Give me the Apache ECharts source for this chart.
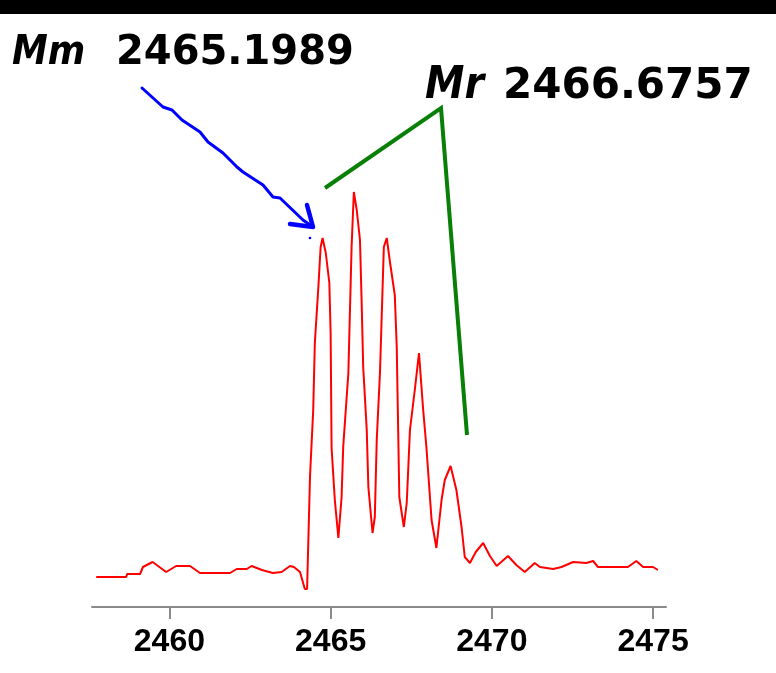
<!DOCTYPE html>
<html>
<head>
<meta charset="utf-8">
<title>Isotope envelope</title>
<script src="https://cdn.jsdelivr.net/npm/echarts@6/dist/echarts.min.js"></script>
<style>
  html, body { margin: 0; padding: 0; background: #fff; }
  #chart { width: 776px; height: 673px; }
</style>
</head>
<body>
<div id="chart"></div>
<script>
// m/z sampling of the trace
const mz = [
  2457.73, 2458.66, 2458.69, 2459.09, 2459.18, 2459.48, 2459.90, 2460.21, 2460.64, 2460.95,
  2461.62, 2461.88, 2462.09, 2462.40, 2462.55, 2462.87, 2463.21, 2463.48, 2463.74, 2463.86,
  2464.05, 2464.20, 2464.27, 2464.36, 2464.46, 2464.51, 2464.62, 2464.69, 2464.75, 2464.85,
  2464.96, 2465.00, 2465.03, 2465.13, 2465.24, 2465.34, 2465.39, 2465.55, 2465.65, 2465.72,
  2465.81, 2465.91, 2465.96, 2466.01, 2466.12, 2466.17, 2466.30, 2466.37, 2466.43, 2466.53,
  2466.65, 2466.74, 2466.84, 2466.99, 2467.05, 2467.13, 2467.27, 2467.36, 2467.46, 2467.61,
  2467.74, 2467.87, 2467.97, 2468.13, 2468.28, 2468.44, 2468.54, 2468.72, 2468.90, 2469.06,
  2469.16, 2469.32, 2469.50, 2469.73, 2469.94, 2470.15, 2470.50, 2470.76, 2471.02, 2471.33,
  2471.49, 2471.90, 2472.16, 2472.52, 2472.93, 2473.14, 2473.29, 2474.22, 2474.48, 2474.69,
  2475.00, 2475.15
];

// signal intensity (arbitrary units)
const intensity = [
  30, 30, 33, 33, 40, 45, 35, 41, 41, 34,
  34, 34, 38, 38, 41, 37, 34, 35, 41, 40,
  35, 18, 18, 130, 197, 264, 320, 360, 369, 354,
  324, 274, 159, 107, 69, 110, 160, 234, 360, 415,
  397, 367, 307, 240, 177, 120, 74, 90, 167, 234,
  360, 369, 345, 312, 260, 110, 80, 104, 177, 217,
  254, 197, 160, 87, 59, 107, 127, 141, 117, 80,
  50, 44, 55, 64, 51, 41, 51, 42, 35, 44,
  40, 38, 40, 45, 44, 46, 40, 40, 46, 40,
  40, 37
];

// labelled ticks on the mass axis
const tickValues = [2460, 2465, 2470, 2475];

// annotation texts
const monoLabel = 'Mm';
const monoMass = '2465.1989';
const avgLabel = 'Mr';
const avgMass = '2466.6757';

const points = mz.map((m, i) => [m, intensity[i]]);

const chart = echarts.init(document.getElementById('chart'), null, { renderer: 'canvas' });

chart.setOption({
  animation: false,
  backgroundColor: '#ffffff',
  grid: { left: 92, right: 110, top: 107, bottom: 66, containLabel: false },
  xAxis: {
    type: 'value',
    min: 2457.6,
    max: 2475.4,
    splitLine: { show: false },
    axisLine: { show: true, onZero: false, lineStyle: { color: '#8a8a8a', width: 2 } },
    axisTick: {
      show: true,
      customValues: tickValues,
      length: 12,
      lineStyle: { color: '#8a8a8a', width: 2 }
    },
    axisLabel: {
      customValues: tickValues,
      formatter: (v) => String(Math.round(v)),
      margin: 19,
      color: '#000',
      fontFamily: 'Liberation Sans',
      fontWeight: 'bold',
      fontSize: 32
    }
  },
  yAxis: {
    type: 'value',
    min: 0,
    max: 500,
    show: false
  },
  series: [{
    type: 'line',
    data: points,
    showSymbol: false,
    smooth: false,
    lineStyle: { color: '#ff0000', width: 2 },
    z: 3
  }],
  graphic: [
    // top dark band
    { type: 'rect', shape: { x: 0, y: 0, width: 776, height: 14 }, style: { fill: '#000' }, z: 10 },
    // monoisotopic annotation
    {
      type: 'text', x: 12, y: 54,
      style: { text: monoLabel, font: 'italic bold 40px "DejaVu Sans Condensed", "DejaVu Sans"', fill: '#000', verticalAlign: 'middle', align: 'left' }
    },
    {
      type: 'text', x: 116, y: 54,
      style: { text: monoMass, font: 'bold 40px "DejaVu Sans"', fill: '#000', verticalAlign: 'middle', align: 'left' }
    },
    // average mass annotation
    {
      type: 'text', x: 425, y: 87,
      style: { text: avgLabel, font: 'italic bold 44px "DejaVu Sans Condensed", "DejaVu Sans"', fill: '#000', verticalAlign: 'middle', align: 'left' }
    },
    {
      type: 'text', x: 503, y: 87,
      style: { text: avgMass, font: 'bold 42px "DejaVu Sans"', fill: '#000', verticalAlign: 'middle', align: 'left' }
    },
    // blue arrow towards the first isotope peak
    {
      type: 'polyline',
      shape: { points: [[142, 88], [163, 107], [172, 110], [182, 120], [200, 132], [208, 142], [223, 153], [237, 167], [243, 172], [263, 185], [273, 197], [280, 198], [303, 220], [313, 227]] },
      style: { stroke: '#0000ff', lineWidth: 3, fill: null, lineJoin: 'round', lineCap: 'round' }
    },
    {
      type: 'polyline',
      shape: { points: [[290, 224], [313, 227], [307, 205]] },
      style: { stroke: '#0000ff', lineWidth: 4.5, fill: null, lineJoin: 'round', lineCap: 'round' }
    },
    { type: 'circle', shape: { cx: 310, cy: 238, r: 1.3 }, style: { fill: '#0000ff' } },
    // green bracket from the average mass label
    {
      type: 'polyline',
      shape: { points: [[325, 188], [441, 108], [467, 435]] },
      style: { stroke: '#088008', lineWidth: 4, fill: null, lineJoin: 'miter', lineCap: 'butt' }
    }
  ]
});
</script>
</body>
</html>
